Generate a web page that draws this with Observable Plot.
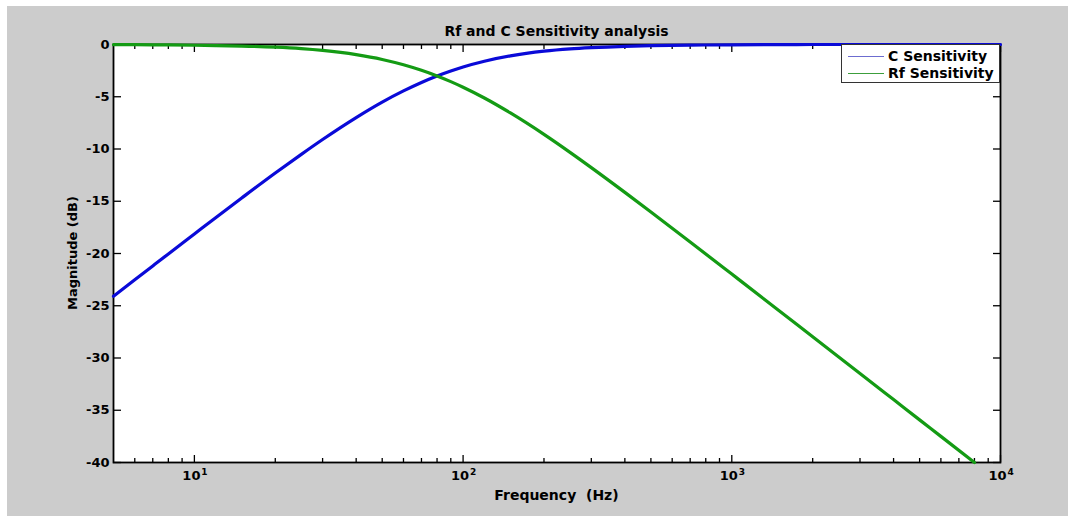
<!DOCTYPE html>
<html><head><meta charset="utf-8">
<script src="https://cdn.jsdelivr.net/npm/d3@7"></script>
<script src="https://cdn.jsdelivr.net/npm/@observablehq/plot@0.6"></script>
<style>
html,body{margin:0;padding:0;background:#fff;}
#fig{position:absolute;left:7px;top:6px;width:1061px;height:510px;background:#cccccc;font-family:"DejaVu Sans",sans-serif;font-weight:bold;color:#000;overflow:hidden;}
#chart{position:absolute;left:0;top:0;}
#title{position:absolute;left:106px;width:887px;top:18px;text-align:center;font-size:14px;line-height:14px;white-space:nowrap;}
#xlabel{position:absolute;left:106px;width:887px;top:482px;text-align:center;font-size:14px;line-height:14px;white-space:pre;}
#ylabel{position:absolute;left:65px;top:247px;transform:translate(-50%,-50%) rotate(-90deg);font-size:13px;line-height:13px;white-space:nowrap;}
#legend{position:absolute;left:834px;top:38px;width:157px;height:37px;background:#fff;border:1px solid #333;}
#legend .row{position:absolute;left:0;height:16px;width:157px;}
#legend .sw{position:absolute;left:6px;width:36px;height:1px;top:8px;}
#legend .lab{position:absolute;left:46px;top:0;font-size:14px;line-height:16px;white-space:nowrap;}
</style>
</head><body>
<div id="fig">
  <div id="chart"></div>
  <div id="title"></div>
  <div id="xlabel"></div>
  <div id="ylabel"></div>
  <div id="legend"></div>
</div>
<script>
// ---- data ----
const titleText = "Rf and C Sensitivity analysis";
const xLabelText = "Frequency  (Hz)";
const yLabelText = "Magnitude (dB)";
const seriesNames = ["C Sensitivity", "Rf Sensitivity"];
const seriesColors = ["#0a0ad8", "#149b14"];
const legendColors = ["#6c6cd0", "#3c9e3c"];

const freqC  = [5, 6, 7, 8, 10, 12, 15, 20, 25, 30, 40, 50, 60, 70, 80, 90, 100, 120, 150, 200, 250, 300, 400, 500, 700, 1000, 1500, 2000, 3000, 5000, 10000];
const cDb    = [-24.10, -22.52, -21.19, -20.04, -18.13, -16.57, -14.69, -12.30, -10.51, -9.09, -6.99, -5.51, -4.44, -3.63, -3.01, -2.53, -2.15, -1.60, -1.09, -0.64, -0.42, -0.30, -0.17, -0.11, -0.06, -0.03, -0.01, 0, 0, 0, 0];

const freqRf = [5, 6, 7, 8, 10, 12, 15, 20, 25, 30, 40, 50, 60, 70, 80, 90, 100, 120, 150, 200, 250, 300, 400, 500, 700, 1000, 1500, 2000, 3000, 4000, 5000, 6000, 8000];
const rfDb   = [-0.02, -0.02, -0.03, -0.04, -0.07, -0.10, -0.15, -0.26, -0.40, -0.57, -0.97, -1.43, -1.94, -2.47, -3.01, -3.55, -4.09, -5.12, -6.55, -8.60, -10.32, -11.78, -14.15, -16.03, -18.90, -21.97, -25.47, -27.97, -31.48, -33.98, -35.92, -37.50, -40.0];

const xMajorTicks = [10, 100, 1000, 10000];
const xTickBase = ["10", "10", "10", "10"];
const xTickExp = ["1", "2", "3", "4"];
const xMinorTicks = [6, 7, 8, 9, 20, 30, 40, 50, 60, 70, 80, 90, 200, 300, 400, 500, 600, 700, 800, 900, 2000, 3000, 4000, 5000, 6000, 7000, 8000, 9000];
const yTicks = [0, -5, -10, -15, -20, -25, -30, -35, -40];
const xDomain = [5, 10000];
const yDomain = [-40, 0];

// ---- build ----
const cRows = freqC.map((f, i) => ({f, db: cDb[i]}));
const rfRows = freqRf.map((f, i) => ({f, db: rfDb[i]}));

const chart = Plot.plot({
  width: 1061, height: 510,
  marginLeft: 106, marginRight: 68, marginTop: 38, marginBottom: 54,
  style: {background: "transparent", fontFamily: "DejaVu Sans, sans-serif", fontWeight: "bold", fontSize: "13px", color: "black"},
  x: {type: "log", domain: xDomain},
  y: {domain: yDomain},
  marks: [
    Plot.frame({fill: "white", stroke: "none"}),
    Plot.frame({stroke: "black", strokeWidth: 1.8}),
    Plot.axisX({anchor: "bottom", ticks: xMajorTicks, tickSize: -7, fill: "none", label: null, strokeWidth: 1.3}),
    Plot.axisX({anchor: "bottom", ticks: xMinorTicks, tickSize: -4, fill: "none", label: null, strokeWidth: 1.3}),
    Plot.axisX({anchor: "top", ticks: xMajorTicks, tickSize: -7, fill: "none", label: null, strokeWidth: 1.3}),
    Plot.axisX({anchor: "top", ticks: xMinorTicks, tickSize: -4, fill: "none", label: null, strokeWidth: 1.3}),
    Plot.axisY({anchor: "left", ticks: yTicks, tickSize: -8, fill: "none", label: null, strokeWidth: 1.3}),
    Plot.axisY({anchor: "right", ticks: yTicks, tickSize: -8, fill: "none", label: null, strokeWidth: 1.3}),
    Plot.axisY({anchor: "left", ticks: yTicks, tickSize: 0, tickPadding: 4, label: null, fontSize: 13, fontWeight: "bold", tickFormat: d => String(d)}),
    Plot.text(xMajorTicks, {x: d => d, text: (d, i) => xTickBase[i], frameAnchor: "bottom", dy: 17, dx: -3, fontSize: 13, fontWeight: "bold"}),
    Plot.text(xMajorTicks, {x: d => d, text: (d, i) => xTickExp[i], frameAnchor: "bottom", dy: 12, dx: 10, fontSize: 9, fontWeight: "bold"}),
    Plot.line(cRows, {x: "f", y: "db", stroke: seriesColors[0], strokeWidth: 3.2, curve: "monotone-x"}),
    Plot.line(rfRows, {x: "f", y: "db", stroke: seriesColors[1], strokeWidth: 3.2, curve: "monotone-x"})
  ]
});
document.getElementById("chart").appendChild(chart);

document.getElementById("title").textContent = titleText;
document.getElementById("xlabel").textContent = xLabelText;
document.getElementById("ylabel").textContent = yLabelText;

const legend = document.getElementById("legend");
seriesNames.forEach((name, i) => {
  const row = document.createElement("div");
  row.className = "row";
  row.style.top = (3 + i * 17) + "px";
  const sw = document.createElement("div");
  sw.className = "sw";
  sw.style.background = legendColors[i];
  const lab = document.createElement("div");
  lab.className = "lab";
  lab.textContent = name;
  row.appendChild(sw); row.appendChild(lab);
  legend.appendChild(row);
});
</script>
</body></html>
